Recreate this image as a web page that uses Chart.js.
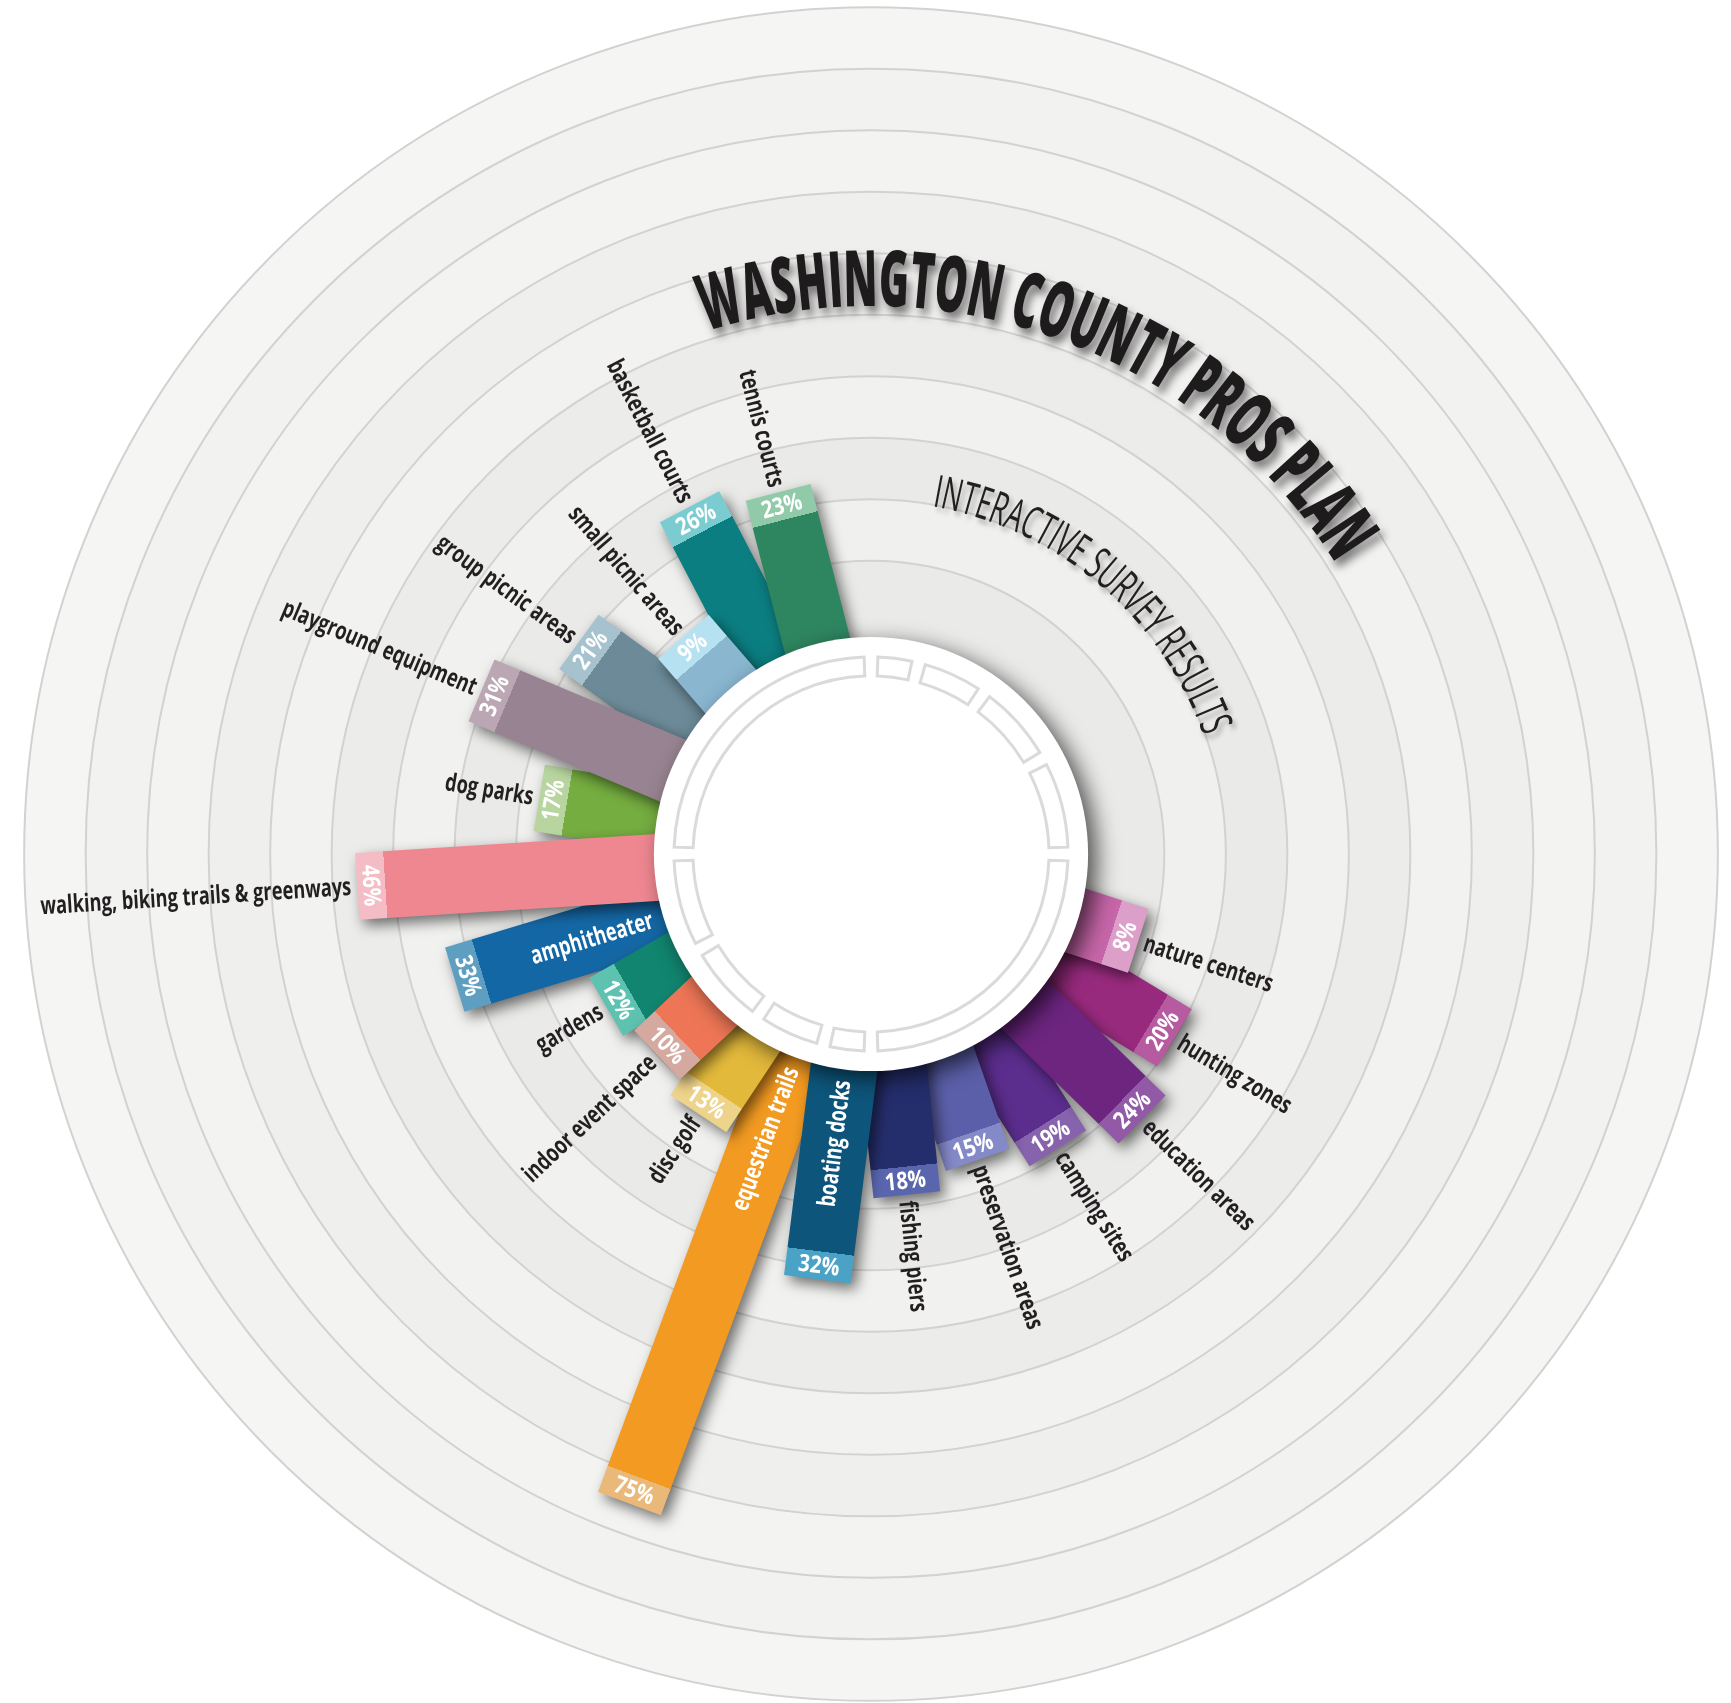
<!DOCTYPE html>
<html>
<head>
<meta charset="utf-8">
<title>Washington County PROS Plan - Interactive Survey Results</title>
<script src="https://cdn.jsdelivr.net/npm/chart.js"></script>
<style>
  html, body { margin: 0; padding: 0; background: #fff; }
  canvas { display: block; }
</style>
</head>
<body>
<canvas id="survey" width="1731" height="1703"></canvas>
<script>
// survey answers, clockwise starting from the right hand side of the dial
const categories = [
    'nature centers', 'hunting zones', 'education areas', 'camping sites',
    'preservation areas', 'fishing piers', 'boating docks', 'equestrian trails',
    'disc golf', 'indoor event space', 'gardens', 'amphitheater',
    'walking, biking trails & greenways', 'dog parks', 'playground equipment',
    'group picnic areas', 'small picnic areas', 'basketball courts', 'tennis courts'
];
const values = [8, 20, 24, 19, 15, 18, 32, 75, 13, 10, 12, 33, 46, 17, 31, 21, 9, 26, 23];

// one grid ring every 10%
const ringTicks = [10, 20, 30, 40, 50, 60, 70, 80, 90, 100];

const titleText = 'WASHINGTON COUNTY PROS PLAN';
const subtitleText = 'INTERACTIVE SURVEY RESULTS';

// ---- styling ----
const barColors = [
    '#c766a9', '#982a7e', '#6d2580', '#5b2d8d', '#5b5fa9', '#252e6d', '#0d557b',
    '#f29a21', '#e3b93b', '#ee7656', '#11856f', '#1467a5', '#ef8791', '#75ad40',
    '#978391', '#6c8a98', '#8ab6d0', '#0b7e81', '#2e8660'
];
const capColors = [
    '#dc9fc9', '#b75ba1', '#925aa6', '#8763ae', '#8489c8', '#5966ae', '#4aa3c7',
    '#eab879', '#eed38b', '#d5a99f', '#5ec2b1', '#5e9fc1', '#f4bdc6', '#b8d59f',
    '#baa7b3', '#a5c2ce', '#b6e1f1', '#7bccd1', '#90caa9'
];
const bandColors = ['#eaeae9', '#f0f0ef', '#eaeae9', '#f1f1f0', '#ececeb',
                    '#f2f2f1', '#efefee', '#f3f3f2', '#f2f2f1', '#f5f5f4'];
// bars listed from the bottom layer to the top layer
const stackOrder = [
    'hunting zones', 'camping sites', 'group picnic areas', 'dog parks', 'amphitheater',
    'equestrian trails', 'disc golf', 'gardens', 'indoor event space', 'basketball courts',
    'preservation areas', 'nature centers', 'education areas', 'small picnic areas',
    'playground equipment', 'tennis courts', 'fishing piers', 'boating docks',
    'walking, biking trails & greenways'
];
// these names sit inside their own bar
const labelInside = ['amphitheater', 'equestrian trails', 'boating docks'];

// ---- layout (value units = percentage points) ----
const W = 1731, H = 1703;
const CENTER_X = 871, CENTER_Y = 854;
const PX_PER_UNIT = 6.15;
const HUB = 37.7;            // 0% sits this far out from the centre
const HUB_R = 35.3;          // white disc
const BAR_START = 25;
const BAR_WIDTH = 67 / PX_PER_UNIT;
const CAP = 28 / PX_PER_UNIT;
const START_ANGLE = 18;      // degrees clockwise from 3 o'clock
const STEP_ANGLE = 13.2;
const LABEL_GAP = 1.0;
const INSIDE_LABEL_R = 37.1;
const HUB_SEGMENTS = [[2, 88], [92, 102], [106, 123], [127, 149], [153, 178]];

const LABEL_FONT = 'bold 25px "Open Sans", "DejaVu Sans", sans-serif';
const PCT_FONT = 'bold 24px "Open Sans", "DejaVu Sans", sans-serif';

function angleOf(i) {
    return START_ANGLE + STEP_ANGLE * i;
}

// data-space point (y up) at distance r along a screen angle (clockwise)
function polar(r, deg) {
    const a = deg * Math.PI / 180;
    return { x: r * Math.cos(a), y: -r * Math.sin(a) };
}

function barOutline(i) {
    const deg = angleOf(i);
    const a = deg * Math.PI / 180;
    const nx = Math.sin(a) * BAR_WIDTH / 2;
    const ny = Math.cos(a) * BAR_WIDTH / 2;
    const inner = polar(BAR_START, deg);
    const outer = polar(HUB + values[i], deg);
    return [
        { x: inner.x + nx, y: inner.y + ny },
        { x: outer.x + nx, y: outer.y + ny },
        { x: outer.x - nx, y: outer.y - ny },
        { x: inner.x - nx, y: inner.y - ny }
    ];
}

function toPixel(chart, r, deg) {
    const p = polar(r, deg);
    return { x: chart.scales.x.getPixelForValue(p.x), y: chart.scales.y.getPixelForValue(p.y) };
}

function radiusPx(chart, r) {
    const xs = chart.scales.x;
    return xs.getPixelForValue(r) - xs.getPixelForValue(0);
}

// two tone fill: body colour, then the lighter cap at the outer end
function barFill(chart, i) {
    if (!chart.scales.x || !chart.scales.y) return barColors[i];
    const c = toPixel(chart, 0, 0);
    const e = toPixel(chart, HUB + values[i], angleOf(i));
    if (![c.x, c.y, e.x, e.y].every(Number.isFinite)) return barColors[i];
    const g = chart.ctx.createLinearGradient(c.x, c.y, e.x, e.y);
    const t = 1 - CAP / (HUB + values[i]);
    g.addColorStop(0, barColors[i]);
    g.addColorStop(t, barColors[i]);
    g.addColorStop(t, capColors[i]);
    g.addColorStop(1, capColors[i]);
    return g;
}

function drawText(ctx, text, p, rotDeg, font, color, align, squeeze) {
    ctx.save();
    ctx.translate(p.x, p.y);
    ctx.rotate(rotDeg * Math.PI / 180);
    ctx.scale(squeeze, 1);
    ctx.font = font;
    ctx.fillStyle = color;
    ctx.textAlign = align;
    ctx.textBaseline = 'middle';
    ctx.fillText(text, 0, 1);
    ctx.restore();
}

function drawArcText(chart, text, r, fromDeg, toDeg, font, color, shadow) {
    const ctx = chart.ctx;
    const c = toPixel(chart, 0, 0);
    const rp = radiusPx(chart, r);
    ctx.save();
    ctx.font = font;
    const chars = [...text];
    const widths = chars.map(ch => ctx.measureText(ch).width);
    const natural = widths.reduce((s, w) => s + w, 0);
    const squeeze = (toDeg - fromDeg) * Math.PI / 180 * rp / natural;
    let a = fromDeg * Math.PI / 180;
    ctx.fillStyle = color;
    ctx.textAlign = 'center';
    ctx.textBaseline = 'alphabetic';
    ctx.shadowColor = shadow.color;
    ctx.shadowBlur = shadow.blur;
    ctx.shadowOffsetX = shadow.dx;
    ctx.shadowOffsetY = shadow.dy;
    chars.forEach((ch, k) => {
        const w = widths[k] * squeeze;
        const mid = a + w / 2 / rp;
        ctx.save();
        ctx.translate(c.x + rp * Math.cos(mid), c.y + rp * Math.sin(mid));
        ctx.rotate(mid + Math.PI / 2);
        ctx.scale(squeeze, 1);
        ctx.fillText(ch, 0, 0);
        ctx.restore();
        a += w / rp;
    });
    ctx.restore();
}

const dialPlugin = {
    id: 'dial',
    beforeDatasetsDraw(chart) {
        const ctx = chart.ctx;
        const c = toPixel(chart, 0, 0);
        const radii = ringTicks.map(t => radiusPx(chart, HUB + t));

        // shaded bands, outside in
        for (let k = radii.length - 1; k >= 0; k--) {
            ctx.beginPath();
            ctx.arc(c.x, c.y, radii[k], 0, Math.PI * 2);
            ctx.fillStyle = bandColors[k];
            ctx.fill();
        }
        ctx.strokeStyle = '#d2d2d2';
        ctx.lineWidth = 2;
        radii.forEach(r => {
            ctx.beginPath();
            ctx.arc(c.x, c.y, r, 0, Math.PI * 2);
            ctx.stroke();
        });

        // drop shadow for every bar
        ctx.save();
        ctx.shadowColor = 'rgba(0, 0, 0, 0.55)';
        ctx.shadowBlur = 14;
        ctx.shadowOffsetX = 5;
        ctx.shadowOffsetY = 6;
    },
    afterDatasetsDraw(chart) {
        const ctx = chart.ctx;
        ctx.restore();
        const c = toPixel(chart, 0, 0);

        // white hub
        ctx.save();
        ctx.shadowColor = 'rgba(0, 0, 0, 0.65)';
        ctx.shadowBlur = 22;
        ctx.shadowOffsetX = 9;
        ctx.shadowOffsetY = 7;
        ctx.beginPath();
        ctx.arc(c.x, c.y, radiusPx(chart, HUB_R), 0, Math.PI * 2);
        ctx.fillStyle = '#ffffff';
        ctx.fill();
        ctx.restore();

        // segmented ring on the hub
        const ro = 197, ri = 178;
        ctx.save();
        ctx.strokeStyle = '#dadada';
        ctx.lineWidth = 3;
        [0, 180].forEach(off => {
            HUB_SEGMENTS.forEach(([s, e]) => {
                const a0 = (s + off) * Math.PI / 180, a1 = (e + off) * Math.PI / 180;
                ctx.beginPath();
                ctx.arc(c.x, c.y, ro, a0, a1);
                ctx.arc(c.x, c.y, ri, a1, a0, true);
                ctx.closePath();
                ctx.stroke();
            });
        });
        ctx.restore();

        // value labels in the caps, category names beside the bars
        categories.forEach((name, i) => {
            const deg = angleOf(i);
            const end = HUB + values[i];
            const pctRot = deg <= 180 ? deg - 90 : deg - 270;
            drawText(ctx, values[i] + '%', toPixel(chart, end - CAP / 2, deg), pctRot,
                PCT_FONT, '#ffffff', 'center', 0.84);

            if (labelInside.includes(name)) {
                drawText(ctx, name, toPixel(chart, INSIDE_LABEL_R, deg), deg - 180,
                    LABEL_FONT, '#ffffff', 'right', 0.73);
            } else if (deg > 90 && deg < 270) {
                drawText(ctx, name, toPixel(chart, end + LABEL_GAP, deg), deg - 180,
                    LABEL_FONT, '#231f20', 'right', 0.73);
            } else {
                drawText(ctx, name, toPixel(chart, end + LABEL_GAP, deg), deg,
                    LABEL_FONT, '#231f20', 'left', 0.73);
            }
        });

        drawArcText(chart, titleText, 548 / PX_PER_UNIT, -107.5, -32,
            '800 78px "Open Sans", "DejaVu Sans", sans-serif', '#1e1b1c',
            { color: 'rgba(0, 0, 0, 0.5)', blur: 8, dx: 4, dy: 7 });
        drawArcText(chart, subtitleText, 353 / PX_PER_UNIT, -80, -19.5,
            '400 45px "Open Sans", "DejaVu Sans", sans-serif', '#231f20',
            { color: 'rgba(0, 0, 0, 0.3)', blur: 5, dx: 3, dy: 5 });
    }
};

new Chart(document.getElementById('survey').getContext('2d'), {
    type: 'scatter',
    data: {
        datasets: categories.map((name, i) => ({
            label: name,
            data: barOutline(i),
            showLine: true,
            fill: 'shape',
            borderWidth: 0,
            pointRadius: 0,
            pointHoverRadius: 0,
            backgroundColor: (ctx) => barFill(ctx.chart, i),
            order: stackOrder.length - stackOrder.indexOf(name)
        }))
    },
    options: {
        responsive: false,
        maintainAspectRatio: false,
        devicePixelRatio: 1,
        animation: false,
        events: [],
        layout: { padding: 0, autoPadding: false },
        scales: {
            x: {
                type: 'linear', display: false,
                min: -CENTER_X / PX_PER_UNIT, max: (W - CENTER_X) / PX_PER_UNIT
            },
            y: {
                type: 'linear', display: false,
                min: -(H - CENTER_Y) / PX_PER_UNIT, max: CENTER_Y / PX_PER_UNIT
            }
        },
        plugins: {
            legend: { display: false },
            tooltip: { enabled: false }
        }
    },
    plugins: [dialPlugin]
});
</script>
</body>
</html>
